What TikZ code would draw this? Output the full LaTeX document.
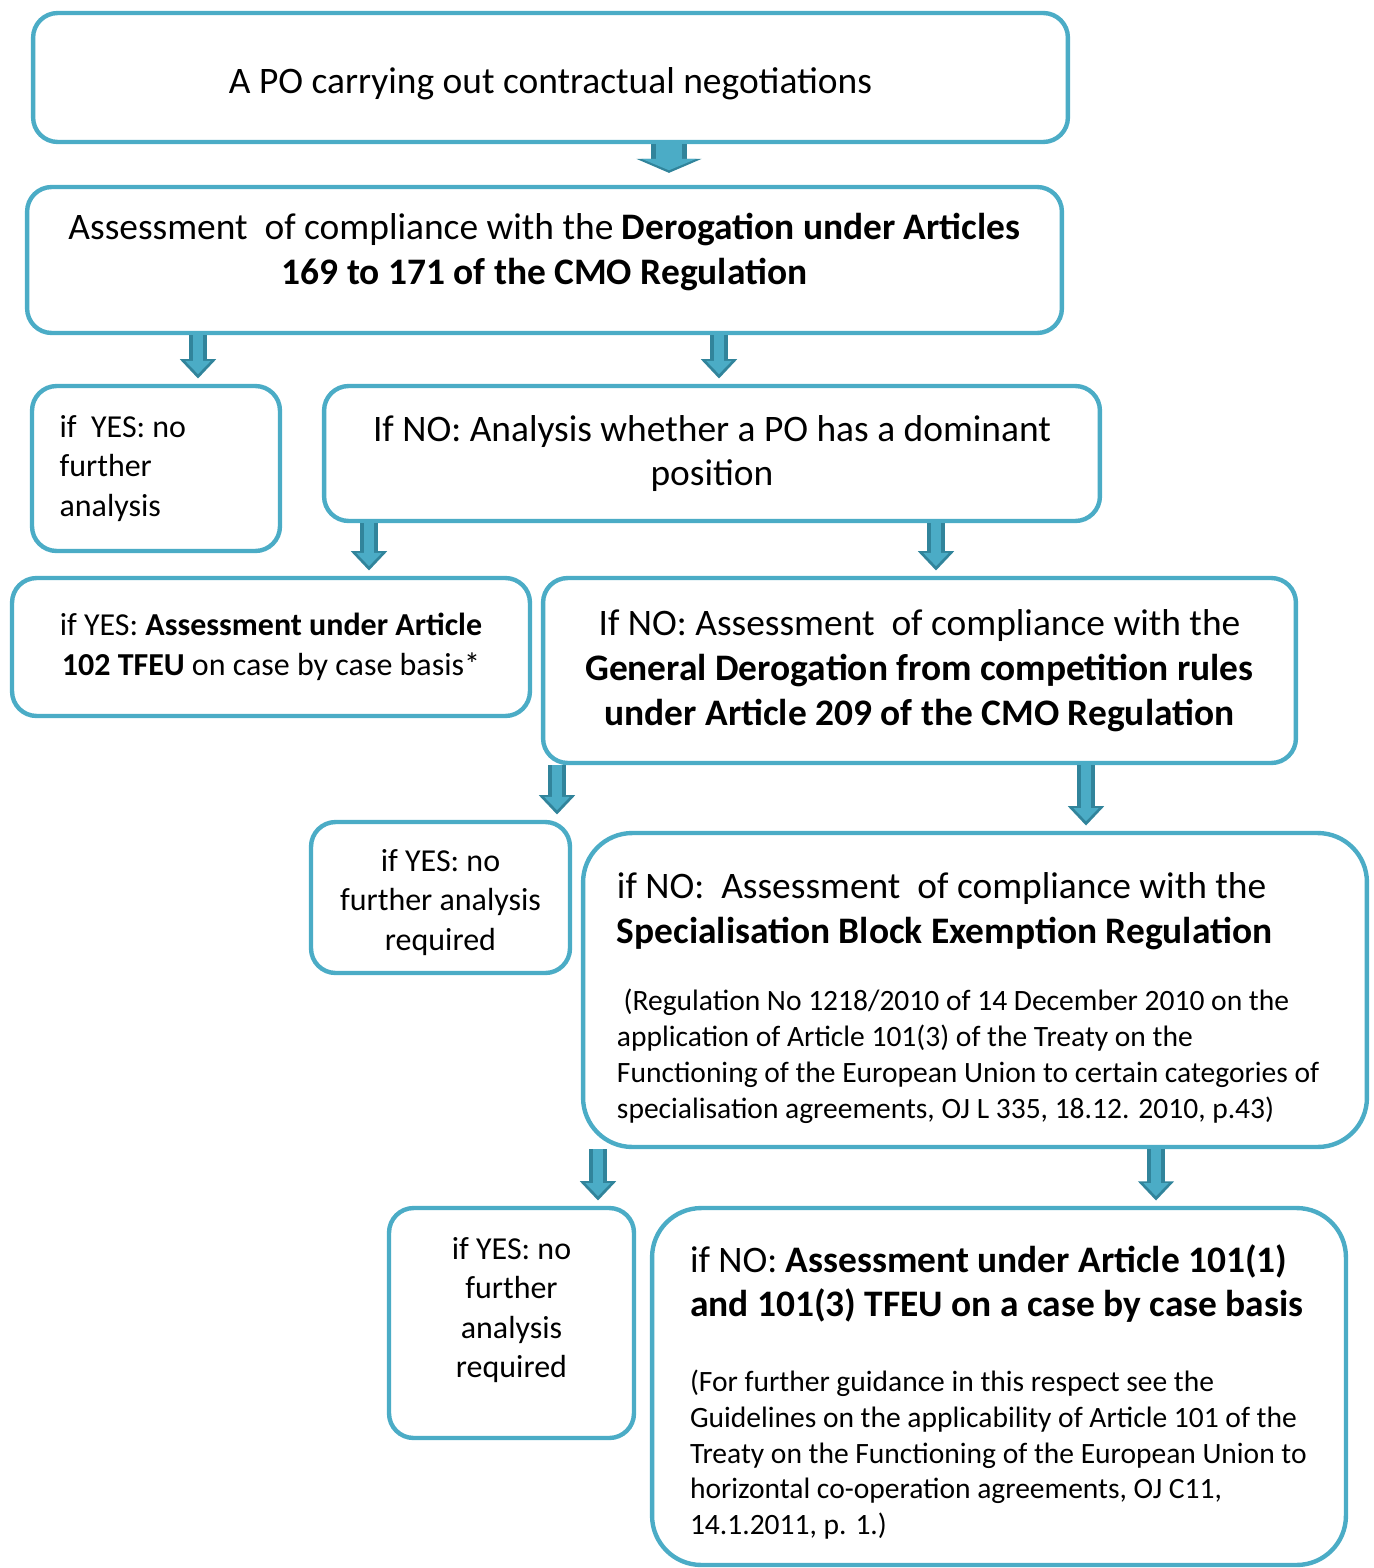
\documentclass[tikz,border=0pt]{standalone}
\usepackage{fontspec}
\setmainfont{Carlito}
\usepackage{tikz}
\usetikzlibrary{arrows.meta,calc}
\definecolor{aqua}{HTML}{4BACC6}
\definecolor{aquadark}{HTML}{31849B}
\newcommand{\txtbig}{\fontsize{21.3}{25.5}\selectfont}
\newcommand{\txtmid}{\fontsize{18.2}{22.4}\selectfont}
\newcommand{\txtsmall}{\fontsize{16.8}{20.4}\selectfont}
% invisible struts to nudge text inside a box
\newcommand{\uplift}[1]{\rule[-#1]{0pt}{#1}}
\newcommand{\downpush}[1]{\rule{0pt}{#1}}

\begin{document}
\begin{tikzpicture}[x=0.02cm,y=-0.02cm]
% box shape and color
\tikzstyle{box}=[draw=aqua,line width=2.5pt,rounded corners=14pt,fill=white,inner sep=0pt,align=flush center]
\tikzstyle{bigbox}=[box,rounded corners=28pt,align=flush left]
% block arrows (dark edge, light inside)
\tikzstyle{arrowout}=[draw=aquadark,line width=10pt,-{Triangle[width=20pt,length=11pt]},shorten >=3pt]
\tikzstyle{arrowin}=[draw=aqua,line width=6pt,-{Triangle[width=14pt,length=7.5pt]},shorten >=5.5pt]

\useasboundingbox (0,0) rectangle (1373,1568);

% boxes
\node[box,minimum width=20.7cm,minimum height=2.58cm,text width=20cm,font=\txtbig] (start) at (550.5,77.5)
  {\downpush{21.7pt}A PO carrying out contractual negotiations};
\node[box,minimum width=20.7cm,minimum height=2.92cm,text width=20.2cm,font=\txtbig] (derog) at (544.5,260)
  {Assessment\ \ of compliance with the \textbf{Derogation under Articles}\\\textbf{169 to 171 of the CMO Regulation}\uplift{13pt}};
\node[box,minimum width=4.96cm,minimum height=3.3cm,text width=4.56cm,align=flush left,font=\txtmid] (yes1) at (156,468.5)
  {\leftskip=10pt if\ \ YES: no\\further\\analysis\par};
\node[box,minimum width=15.52cm,minimum height=2.7cm,text width=15cm,font=\txtbig] (dominant) at (712,453.5)
  {If NO: Analysis whether a PO has a dominant\\position};
\node[box,minimum width=10.36cm,minimum height=2.76cm,text width=10cm,font=\txtmid] (art102) at (271,647)
  {if YES: \textbf{Assessment under Article}\\\textbf{102 TFEU} on case by case basis*};
\node[box,minimum width=15.06cm,minimum height=3.7cm,text width=14.66cm,font=\txtbig] (general) at (919.5,670.5)
  {If NO: Assessment\ \ of compliance with the\\\textbf{General Derogation from competition rules}\\\textbf{under Article 209 of the CMO Regulation}};
\node[box,minimum width=5.18cm,minimum height=3.02cm,text width=4.8cm,font=\txtmid] (yes2) at (440.5,897.5)
  {\downpush{18pt}if YES: no\\further analysis\\required};
\node[bigbox,minimum width=15.68cm,minimum height=6.28cm,text width=15.28cm,font=\txtbig] (special) at (975,990)
  {\leftskip=13.6pt
   {\txtbig\downpush{24pt}if NO:\ \ Assessment\ \ of compliance with the\\\textbf{Specialisation Block Exemption Regulation}\par}
   \vspace{18pt}
   {\txtsmall \ (Regulation No 1218/2010 of 14 December 2010 on the\\application of Article 101(3) of the Treaty on the\\Functioning of the European Union to certain categories of\\specialisation agreements, OJ L 335, 18.12. 2010, p.43)\par}};
\node[box,minimum width=4.9cm,minimum height=4.6cm,text width=4.5cm,font=\txtmid] (yes3) at (511.5,1323)
  {if YES: no\\further\\analysis\\required\uplift{17.5pt}};
\node[bigbox,minimum width=13.88cm,minimum height=7.14cm,text width=13.48cm,font=\txtbig] (caseby) at (999,1386.5)
  {\leftskip=15.9pt
   {\txtbig\downpush{22pt}if NO: \textbf{Assessment under Article 101(1)}\\\textbf{and 101(3) TFEU on a case by case basis}\par}
   \vspace{22pt}
   {\txtsmall (For further guidance in this respect see the\\Guidelines on the applicability of Article 101 of the\\Treaty on the Functioning of the European Union to\\horizontal co-operation agreements, OJ C11,\\14.1.2011, p. 1.)\par}};

% arrows
\draw[arrowout,line width=20pt,-{Triangle[width=37pt,length=8pt]},shorten >=6.8pt] (start.south -| 669,0) -- (derog.north -| 669,0);
\draw[arrowin,line width=15pt,-{Triangle[width=31pt,length=6.5pt]},shorten >=8.3pt] (start.south -| 669,0) -- (derog.north -| 669,0);
\foreach \from/\to/\x in {derog/yes1/198, derog/dominant/719, dominant/art102/369, dominant/general/936,
  general/yes2/557, general/special/1086, special/yes3/598, special/caseby/1156}
{
\draw[arrowout] (\from.south -| \x,0) -- (\to.north -| \x,0);
\draw[arrowin] (\from.south -| \x,0) -- (\to.north -| \x,0);
}
\end{tikzpicture}
\end{document}
